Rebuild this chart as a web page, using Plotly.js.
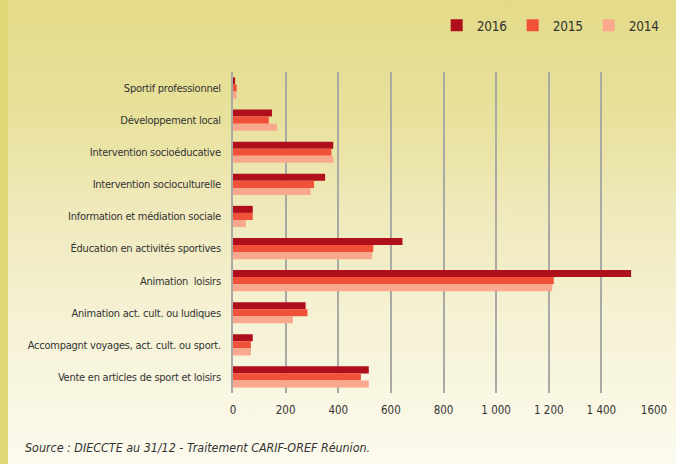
<!DOCTYPE html>
<html>
<head>
<meta charset="utf-8">
<script src="https://cdn.plot.ly/plotly-3.0.1.min.js"></script>
<style>
html,body{margin:0;padding:0;}
body{width:676px;height:464px;overflow:hidden;position:relative;
background:linear-gradient(to bottom,#e3db88 0%,#e8e19c 25%,#efe9bb 45%,#f6f2d6 70%,#fcfaee 100%);}
#strip{position:absolute;left:0;top:0;width:8px;height:464px;background:#dfd677;}
#chart{position:absolute;left:0;top:0;width:676px;height:464px;}
#chart .ytick text{letter-spacing:-0.25px;}
#chart .legendtext{letter-spacing:-0.2px;}
</style>
</head>
<body>
<div id="strip"></div>
<div id="chart"></div>
<script>
const categories = [
  "Sportif professionnel",
  "Développement local",
  "Intervention socioéducative",
  "Intervention socioculturelle",
  "Information et médiation sociale",
  "Éducation en activités sportives",
  "Animation  loisirs",
  "Animation act. cult. ou ludiques",
  "Accompagnt voyages, act. cult. ou sport.",
  "Vente en articles de sport et loisirs"
];
const v2016 = [8, 148, 381, 350, 75, 644, 1513, 276, 75, 516];
const v2015 = [14, 136, 374, 308, 75, 533, 1219, 283, 68, 486];
const v2014 = [14, 167, 381, 295, 49, 529, 1213, 228, 68, 516];
const seriesNames = ["2016", "2015", "2014"];
const seriesColors = ["#af0f1a", "#f15039", "#f9a88e"];
const tickVals = [0, 200, 400, 600, 800, 1000, 1200, 1400, 1600];
const tickText = ["0", "200", "400", "600", "800", "1 000", "1 200", "1 400", "1600"];
const sourceText = "Source : DIECCTE au 31/12 - Traitement CARIF-OREF Réunion.";

const FONT = "'DejaVu Sans Condensed', 'Open Sans', sans-serif";
const values = [v2016, v2015, v2014];
const traces = values.map((v, i) => ({
  type: "bar",
  orientation: "h",
  name: seriesNames[i],
  y: categories,
  x: v,
  marker: {color: seriesColors[i], line: {width: 0}},
  hoverinfo: "x+name"
}));

const layout = {
  width: 676, height: 464,
  margin: {l: 233, r: 22, t: 72, b: 71, autoexpand: false},
  paper_bgcolor: "rgba(0,0,0,0)",
  plot_bgcolor: "rgba(0,0,0,0)",
  barmode: "group",
  bargap: 0.34,
  bargroupgap: 0,
  font: {family: FONT, size: 11, color: "#333333"},
  xaxis: {
    range: [0, 1600],
    tickvals: tickVals,
    ticktext: tickText,
    showgrid: true,
    gridcolor: "#aaaaa4",
    gridwidth: 2,
    zeroline: false,
    showline: false,
    ticks: "outside",
    ticklen: 6,
    tickcolor: "rgba(0,0,0,0)",
    tickfont: {family: FONT, size: 11.5, color: "#333333"},
    fixedrange: true
  },
  yaxis: {
    type: "category",
    autorange: "reversed",
    showgrid: false,
    showline: true,
    linecolor: "#aaaaa4",
    linewidth: 2,
    ticks: "outside",
    ticklen: 8,
    tickcolor: "rgba(0,0,0,0)",
    tickfont: {family: FONT, size: 11, color: "#333333"},
    fixedrange: true
  },
  legend: {
    orientation: "h",
    xref: "container", yref: "container",
    x: 0.646, xanchor: "left",
    y: 0.945, yanchor: "middle",
    font: {family: FONT, size: 13.5, color: "#333333"},
    entrywidth: 31,
    itemwidth: 30,
    bgcolor: "rgba(0,0,0,0)",
    traceorder: "normal"
  },
  annotations: [{
    text: sourceText,
    xref: "paper", yref: "paper",
    x: -0.498, y: -0.17,
    xanchor: "left", yanchor: "middle",
    showarrow: false,
    font: {family: FONT, size: 12.4, color: "#333333", style: "italic"}
  }]
};

Plotly.newPlot("chart", traces, layout, {displayModeBar: false, staticPlot: true});
</script>
</body>
</html>
